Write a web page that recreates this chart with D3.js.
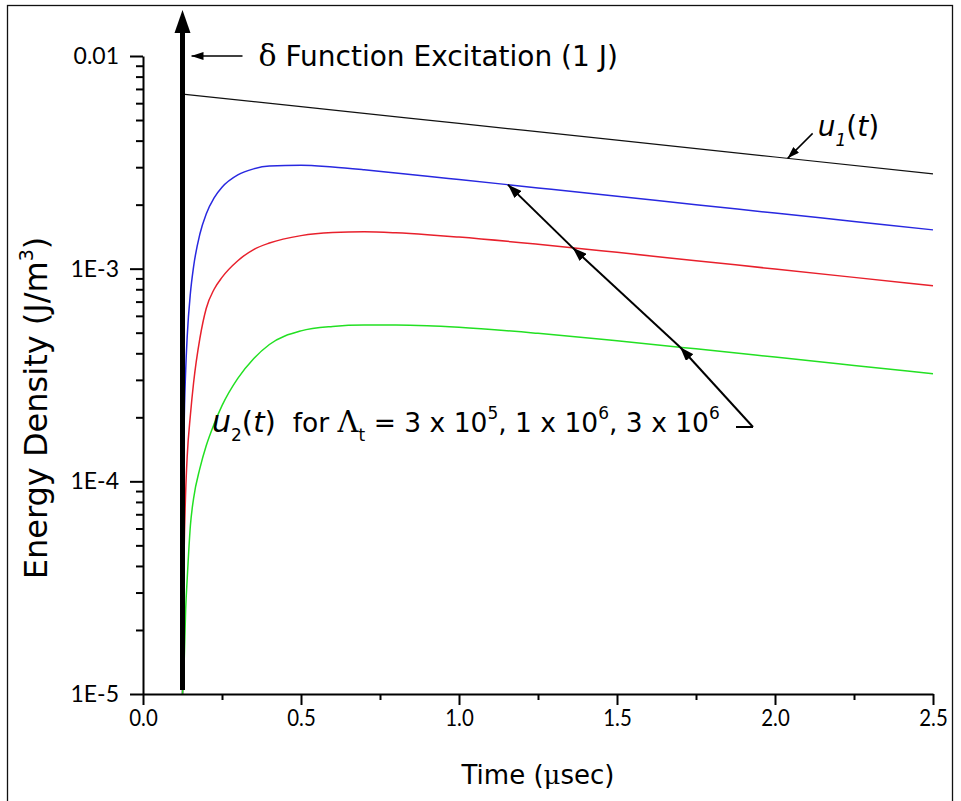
<!DOCTYPE html>
<html><head><meta charset="utf-8">
<script src="https://cdn.jsdelivr.net/npm/d3@7"></script>
<style>body{margin:0;background:#fff}svg{display:block}</style>
</head><body><svg id="c" width="961" height="801"></svg>
<script>
// ---------- data ----------
const timesU1 = [0.125, 0.5, 1.0, 1.5, 2.0, 2.5];
const u1 = [6.62e-3, 5.78e-3, 4.82e-3, 4.02e-3, 3.35e-3, 2.79e-3];

const timesU2 = [0.125, 0.13, 0.135, 0.14, 0.15, 0.16, 0.18, 0.2, 0.225, 0.25, 0.3, 0.35, 0.4,
                 0.5, 0.6, 0.7, 0.8, 0.9, 1.0, 1.25, 1.5, 1.75, 2.0, 2.25, 2.5];
// Λt = 3e6 (blue)
const u2High = [1.0e-5, 1.70e-4, 3.30e-4, 4.83e-4, 7.66e-4, 1.020e-3, 1.456e-3, 1.808e-3, 2.153e-3,
                2.415e-3, 2.760e-3, 2.946e-3, 3.036e-3, 3.065e-3, 3.006e-3, 2.918e-3, 2.820e-3,
                2.722e-3, 2.626e-3, 2.398e-3, 2.190e-3, 1.999e-3, 1.826e-3, 1.667e-3, 1.522e-3];
// Λt = 1e6 (red)
const u2Mid = [1.0e-5, 4.5e-5, 8.9e-5, 1.32e-4, 2.05e-4, 2.90e-4, 4.70e-4, 6.50e-4, 8.00e-4,
               9.10e-4, 1.090e-3, 1.230e-3, 1.320e-3, 1.430e-3, 1.478e-3, 1.490e-3, 1.474e-3,
               1.445e-3, 1.408e-3, 1.302e-3, 1.193e-3, 1.090e-3, 9.96e-4, 9.10e-4, 8.31e-4];
// Λt = 3e5 (green)
const u2Low = [1.0e-5, 1.37e-5, 2.50e-5, 3.50e-5, 6.20e-5, 8.30e-5, 1.150e-4, 1.470e-4, 1.860e-4,
               2.270e-4, 3.050e-4, 3.770e-4, 4.400e-4, 5.100e-4, 5.350e-4, 5.430e-4, 5.430e-4,
               5.390e-4, 5.299e-4, 4.964e-4, 4.579e-4, 4.198e-4, 3.839e-4, 3.508e-4, 3.204e-4];

const seriesNames = ["u1", "u2High", "u2Mid", "u2Low"];
const seriesColors = ["#111111", "#2828e0", "#e8202c", "#22e022"];

const xTicks = [0, 0.5, 1.0, 1.5, 2.0, 2.5];
const xTickLabels = ["0.0", "0.5", "1.0", "1.5", "2.0", "2.5"];
const yTicks = [1e-5, 1e-4, 1e-3, 1e-2];
const yTickLabels = ["1E-5", "1E-4", "1E-3", "0.01"];

const deltaTime = 0.125;
// arrow tips for the u2 annotation (time on each curve)
const u2ArrowTimes = [1.70, 1.36, 1.155];

// ---------- layout ----------
const svg = d3.select("#c");
const X0 = 143, X1 = 933, Y0 = 694, Y1 = 56;
const x = d3.scaleLinear().domain([0, 2.5]).range([X0, X1]);
const y = d3.scaleLog().domain([1e-5, 1e-2]).range([Y0, Y1]);

const font = "'DejaVu Sans','Open Sans',sans-serif";
const tickFont = "'Lato','Open Sans',sans-serif";
const serif = "'DejaVu Serif','Liberation Serif',serif";

// outer frame
svg.append("rect").attr("x", 7.5).attr("y", 5.5).attr("width", 945).attr("height", 805)
  .attr("fill", "none").attr("stroke", "#111").attr("stroke-width", 1.3);

// defs: arrowheads
const defs = svg.append("defs");
function marker(id, w, h) {
  defs.append("marker").attr("id", id).attr("viewBox", `0 0 ${w} ${h}`)
    .attr("refX", w).attr("refY", h / 2).attr("markerWidth", w).attr("markerHeight", h)
    .attr("markerUnits", "userSpaceOnUse").attr("orient", "auto")
    .append("path").attr("d", `M0,0 L${w},${h/2} L0,${h} Z`).attr("fill", "#000");
}
marker("ahBig", 14, 10);
marker("ahSmall", 12, 8);

// ---------- curves ----------
const line = d3.line().x(d => x(d[0])).y(d => y(d[1])).curve(d3.curveMonotoneX);
const series = [
  d3.zip(timesU1, u1),
  d3.zip(timesU2, u2High),
  d3.zip(timesU2, u2Mid),
  d3.zip(timesU2, u2Low)
];
series.forEach((s, i) => {
  svg.append("path").datum(s).attr("d", line).attr("fill", "none")
    .attr("stroke", seriesColors[i]).attr("stroke-width", i === 0 ? 1.2 : 1.5)
    .attr("class", seriesNames[i]);
});

// ---------- axes ----------
const yMinor = [];
for (let e = -5; e < -2; e++) for (let k = 2; k <= 9; k++) yMinor.push(k * Math.pow(10, e));
svg.append("g").attr("transform", `translate(${X0},0)`)
  .call(d3.axisLeft(y).tickValues(yMinor).tickSize(7).tickFormat(""))
  .call(g => g.select(".domain").remove())
  .call(g => g.selectAll("line").attr("stroke", "#000").attr("stroke-width", 2));
svg.append("g").attr("transform", `translate(${X0},0)`)
  .call(d3.axisLeft(y).tickValues(yTicks).tickSize(13).tickSizeOuter(0)
    .tickFormat((d, i) => yTickLabels[i]).tickPadding(11))
  .call(g => g.select(".domain").attr("stroke", "#000").attr("stroke-width", 2))
  .call(g => g.selectAll("line").attr("stroke", "#000").attr("stroke-width", 2))
  .call(g => g.selectAll("text").attr("font-family", tickFont).attr("font-size", 23).attr("fill", "#000"));

const xMinor = [0.25, 0.75, 1.25, 1.75, 2.25];
svg.append("g").attr("transform", `translate(0,${Y0})`)
  .call(d3.axisBottom(x).tickValues(xMinor).tickSize(6).tickFormat(""))
  .call(g => g.select(".domain").remove())
  .call(g => g.selectAll("line").attr("stroke", "#000").attr("stroke-width", 2));
svg.append("g").attr("transform", `translate(0,${Y0})`)
  .call(d3.axisBottom(x).tickValues(xTicks).tickSize(11).tickSizeOuter(0)
    .tickFormat((d, i) => xTickLabels[i]).tickPadding(4))
  .call(g => g.select(".domain").attr("stroke", "#000").attr("stroke-width", 2.2))
  .call(g => g.selectAll("line").attr("stroke", "#000").attr("stroke-width", 2))
  .call(g => g.selectAll("text").attr("font-family", tickFont).attr("font-size", 24).attr("fill", "#000")
    .each(function () {
      const w = this.getComputedTextLength();
      d3.select(this).attr("textLength", w * 0.85).attr("lengthAdjust", "spacingAndGlyphs");
    }));

// axis titles
const xt = svg.append("text").attr("x", (X0 + X1) / 2).attr("y", 784).attr("text-anchor", "middle")
  .attr("font-family", font).attr("font-size", 26).attr("fill", "#000");
xt.append("tspan").text("Time (");
xt.append("tspan").text("μ").attr("font-family", serif);
xt.append("tspan").text("sec)");

const yt = svg.append("text").attr("transform", "translate(47,408) rotate(-90)").attr("text-anchor", "middle")
  .attr("font-family", font).attr("font-size", 32).attr("fill", "#000");
yt.append("tspan").text("Energy Density (J/m");
yt.append("tspan").text("3").attr("font-size", 19).attr("dy", -14);
yt.append("tspan").text(")").attr("dy", 14);

// ---------- delta function arrow ----------
const xd = x(deltaTime);
svg.append("line").attr("x1", xd).attr("x2", xd).attr("y1", y(1e-5) - 4).attr("y2", y(1e-2) - 30)
  .attr("stroke", "#000").attr("stroke-width", 5);
svg.append("path").attr("d", `M${xd},${y(1e-2) - 46} L${xd - 8},${y(1e-2) - 23} L${xd + 8},${y(1e-2) - 23} Z`)
  .attr("fill", "#000");

// small arrow + label
svg.append("line").attr("x1", xd + 60).attr("x2", xd + 9).attr("y1", y(1e-2)).attr("y2", y(1e-2))
  .attr("stroke", "#000").attr("stroke-width", 1.5).attr("marker-end", "url(#ahSmall)");
const dl = svg.append("text").attr("x", xd + 76).attr("y", y(1e-2) + 10)
  .attr("font-family", font).attr("font-size", 28).attr("fill", "#000");
dl.append("tspan").text("δ").attr("font-family", serif).attr("font-size", 30);
dl.append("tspan").text(" Function Excitation (1 J)");

// ---------- u1 label ----------
function interpLog(ts, vs, t) {
  const i = d3.bisectRight(ts, t) - 1;
  const j = Math.min(i + 1, ts.length - 1);
  const f = (t - ts[i]) / ((ts[j] - ts[i]) || 1);
  return Math.exp(Math.log(vs[i]) + f * (Math.log(vs[j]) - Math.log(vs[i])));
}
const u1t = 2.04;
const u1x = x(u1t), u1y = y(interpLog(timesU1, u1, u1t));
svg.append("line").attr("x1", u1x + 25).attr("y1", u1y - 25).attr("x2", u1x).attr("y2", u1y)
  .attr("stroke", "#000").attr("stroke-width", 1.5).attr("marker-end", "url(#ahSmall)");
const l1 = svg.append("text").attr("x", u1x + 30).attr("y", u1y - 22)
  .attr("font-family", font).attr("font-size", 28).attr("fill", "#000");
l1.append("tspan").text("u").attr("font-style", "italic");
l1.append("tspan").text("1").attr("font-style", "italic").attr("font-size", 17).attr("dy", 10);
l1.append("tspan").text("(").attr("dy", -10);
l1.append("tspan").text("t").attr("font-style", "italic");
l1.append("tspan").text(")");

// ---------- u2 label and arrows ----------
const l2 = svg.append("text").attr("x", 212).attr("y", 432)
  .attr("font-family", font).attr("font-size", 26.5).attr("fill", "#000");
l2.append("tspan").text("u").attr("font-style", "italic").attr("font-size", 30);
l2.append("tspan").text("2").attr("font-size", 17).attr("dy", 9);
l2.append("tspan").text("(").attr("dy", -9).attr("font-size", 29);
l2.append("tspan").text("t").attr("font-style", "italic").attr("font-size", 29);
l2.append("tspan").text(")").attr("font-size", 29);
l2.append("tspan").text("\u00a0 for ");
l2.append("tspan").text("Λ").attr("font-family", serif).attr("font-size", 29);
l2.append("tspan").text("t").attr("font-size", 17).attr("dy", 9);
l2.append("tspan").text(" = 3 x 10").attr("dy", -9);
l2.append("tspan").text("5").attr("font-size", 17).attr("dy", -13);
l2.append("tspan").text(", 1 x 10").attr("dy", 13);
l2.append("tspan").text("6").attr("font-size", 17).attr("dy", -13);
l2.append("tspan").text(", 3 x 10").attr("dy", 13);
l2.append("tspan").text("6").attr("font-size", 17).attr("dy", -13);

const tipPts = [
  [x(u2ArrowTimes[0]), y(interpLog(timesU2, u2Low, u2ArrowTimes[0]))],
  [x(u2ArrowTimes[1]), y(interpLog(timesU2, u2Mid, u2ArrowTimes[1]))],
  [x(u2ArrowTimes[2]), y(interpLog(timesU2, u2High, u2ArrowTimes[2]))]
];
const corner = [753, 427];
svg.append("line").attr("x1", corner[0] - 17).attr("y1", corner[1]).attr("x2", corner[0]).attr("y2", corner[1])
  .attr("stroke", "#000").attr("stroke-width", 2);
let prev = corner;
tipPts.forEach(p => {
  svg.append("line").attr("x1", prev[0]).attr("y1", prev[1]).attr("x2", p[0]).attr("y2", p[1])
    .attr("stroke", "#000").attr("stroke-width", 2).attr("marker-end", "url(#ahBig)");
  prev = p;
});
</script></body></html>
